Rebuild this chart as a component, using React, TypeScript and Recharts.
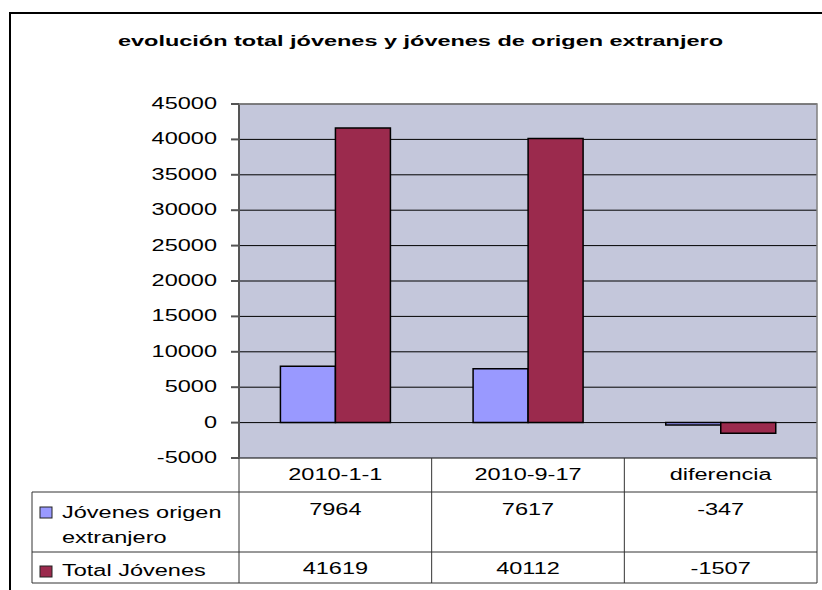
import { BarChart, Bar, XAxis, YAxis, CartesianGrid } from 'recharts';

const categories = ['2010-1-1', '2010-9-17', 'diferencia'];
const jovenesExtranjero = [7964, 7617, -347];
const totalJovenes = [41619, 40112, -1507];
const seriesNames = ['Jóvenes origen extranjero', 'Total Jóvenes'];
const yTicks = [-5000, 0, 5000, 10000, 15000, 20000, 25000, 30000, 35000, 40000, 45000];
const chartTitle = 'evolución total jóvenes y jóvenes de origen extranjero';

const data = categories.map((name, i) => ({
    name,
    ext: jovenesExtranjero[i],
    total: totalJovenes[i],
}));

const FONT = '"Liberation Sans", Arial, Helvetica, sans-serif';
const STRETCH = 1.47;
const BLUE = '#9999FF';
const RED = '#9B2A4D';
const PLOT_BG = '#C4C7DB';

// plot area in page pixels
const PLOT_L = 239;
const PLOT_R = 817;
const PLOT_T = 104;
const PLOT_B = 458;
const TABLE_L = 32;
const ROW1 = 492;
const ROW2 = 552;
const TABLE_B = 583;

function Stretched(props) {
    const { x, y, anchor, children, weight } = props;
    return (
        <text
            transform={`translate(${x},${y}) scale(${STRETCH},1)`}
            textAnchor={anchor || 'middle'}
            fontFamily={FONT}
            fontSize={16}
            fontWeight={weight || 'normal'}
            fill="#000"
        >
            {children}
        </text>
    );
}

function YTick(props) {
    const { x, y, payload } = props;
    return <Stretched x={x} y={y + 5} anchor="end">{String(payload.value)}</Stretched>;
}

// each x tick draws its column of the data table
function TableColumn(props) {
    const { x, payload } = props;
    const i = categories.indexOf(payload.value);
    const bw = (PLOT_R - PLOT_L) / categories.length;
    return (
        <g>
            {i === 0 && <line x1={x - bw / 2} x2={x - bw / 2} y1={PLOT_B} y2={TABLE_B} stroke="#333" />}
            <line x1={x + bw / 2} x2={x + bw / 2} y1={PLOT_B} y2={TABLE_B} stroke="#333" />
            <Stretched x={x} y={480}>{payload.value}</Stretched>
            <Stretched x={x} y={515}>{String(jovenesExtranjero[i])}</Stretched>
            <Stretched x={x} y={574}>{String(totalJovenes[i])}</Stretched>
        </g>
    );
}

export default function App() {
    return (
        <div style={{ position: 'absolute', left: 0, top: 0, width: 822, height: 590, background: '#fff', overflow: 'hidden' }}>
            <BarChart
                width={822}
                height={590}
                data={data}
                margin={{ top: PLOT_T, right: 822 - PLOT_R, bottom: 0, left: PLOT_L - 60 }}
                barCategoryGap="21.5%"
                barGap={0}
            >
                <CartesianGrid vertical={false} stroke="#000" fill={PLOT_BG} fillOpacity={1} />
                <YAxis
                    width={60}
                    domain={[-5000, 45000]}
                    ticks={yTicks}
                    interval={0}
                    allowDataOverflow
                    axisLine={{ stroke: '#555', strokeWidth: 2 }}
                    tickLine={{ stroke: '#555', strokeWidth: 2 }}
                    tickSize={8}
                    tickMargin={14}
                    tick={<YTick />}
                />
                <XAxis
                    dataKey="name"
                    height={590 - PLOT_B}
                    axisLine={false}
                    tickLine={false}
                    interval={0}
                    tick={<TableColumn />}
                />
                <Bar dataKey="ext" name={seriesNames[0]} fill={BLUE} stroke="#000" strokeWidth={1.5} isAnimationActive={false} />
                <Bar dataKey="total" name={seriesNames[1]} fill={RED} stroke="#000" strokeWidth={1.5} isAnimationActive={false} />
            </BarChart>
            <svg width={822} height={590} style={{ position: 'absolute', left: 0, top: 0, pointerEvents: 'none' }}>
                <rect x={10} y={13} width={830} height={600} fill="none" stroke="#000" strokeWidth={2} />
                <text x={118} y={46} textLength={605} lengthAdjust="spacingAndGlyphs" fontFamily={FONT} fontSize={15} fontWeight="bold">
                    {chartTitle}
                </text>
                <polyline points={`${PLOT_L},${PLOT_T} ${PLOT_R},${PLOT_T} ${PLOT_R},${PLOT_B}`} fill="none" stroke="#808080" strokeWidth={1.5} />
                {[ROW1, ROW2, TABLE_B].map((y) => (
                    <line key={y} x1={TABLE_L} x2={PLOT_R} y1={y} y2={y} stroke="#333" />
                ))}
                <line x1={TABLE_L} x2={TABLE_L} y1={ROW1} y2={TABLE_B} stroke="#333" />
                <rect x={40} y={507} width={12} height={11} fill={BLUE} stroke="#222" />
                <rect x={40} y={566} width={12} height={11} fill={RED} stroke="#222" />
                <Stretched x={62} y={518} anchor="start">Jóvenes origen</Stretched>
                <Stretched x={62} y={543} anchor="start">extranjero</Stretched>
                <Stretched x={62} y={576} anchor="start">{seriesNames[1]}</Stretched>
            </svg>
        </div>
    );
}
